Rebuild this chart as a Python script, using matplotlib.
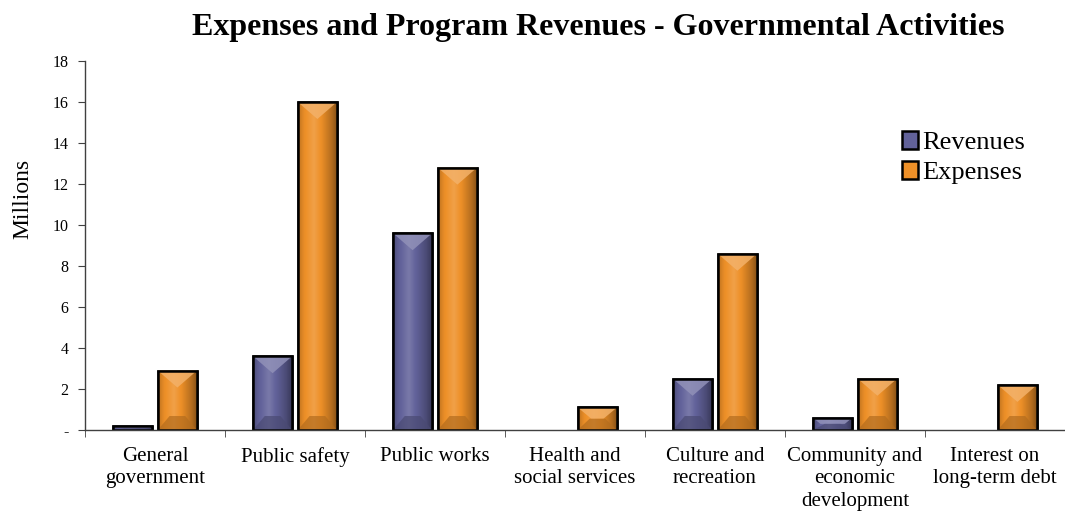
import numpy as np
import matplotlib
matplotlib.use("Agg")
import matplotlib.pyplot as plt
from matplotlib.patches import Polygon, Rectangle
from matplotlib.colors import to_rgb

categories = ["General\ngovernment", "Public safety", "Public works",
              "Health and\nsocial services", "Culture and\nrecreation",
              "Community and\neconomic\ndevelopment", "Interest on\nlong-term debt"]
revenues = [0.2, 3.6, 9.6, 0.0, 2.5, 0.6, 0.0]
expenses = [2.9, 16.0, 12.8, 1.1, 8.6, 2.5, 2.2]
yticks = [0, 2, 4, 6, 8, 10, 12, 14, 16, 18]
ytick_labels = ["-", "2", "4", "6", "8", "10", "12", "14", "16", "18"]
series_names = ["Revenues", "Expenses"]
series_colors = ["#62629a", "#ee9028"]

plt.rcParams['font.family'] = ['Liberation Serif', 'DejaVu Serif']

fig = plt.figure(figsize=(10.65, 5.16), dpi=100)
ax = fig.add_axes([85/1065, 1-430/516, 980/1065, 369/516])
ax.set_xlim(-0.5, len(categories)-0.5)
ax.set_ylim(0, 18)

x = np.arange(len(categories))
w = 0.28
off = 0.16


def lighten(c, f):
    r = np.array(to_rgb(c))
    return tuple(r + (1-r)*f)


def darken(c, f):
    r = np.array(to_rgb(c))
    return tuple(r*(1-f))


fig.canvas.draw()
p0 = ax.transData.transform((0, 0))
p1 = ax.transData.transform((1, 1))
px_x = p1[0]-p0[0]
px_y = p1[1]-p0[1]

# multiplier profile across bar width (left -> right)
prof_t = [0.0, 0.15, 0.4, 0.6, 0.85, 1.0]
prof_v = [0.80, 0.98, 1.10, 0.98, 0.75, 0.55]


def bevel_bar(xc, h, color, label=None):
    bars = ax.bar(xc, h, width=w, color=color, edgecolor="black", linewidth=1.8, zorder=2, label=label)
    for b in bars:
        x0, y0 = b.get_x(), b.get_y()
        bw, bh = b.get_width(), b.get_height()
        if bh <= 0:
            b.set_visible(False)
            continue
        x1, y1 = x0+bw, y0+bh
        n = 64
        t = np.linspace(0, 1, n)
        prof = np.interp(t, prof_t, prof_v)
        base = np.array(to_rgb(color))
        rows = []
        for v in prof:
            if v >= 1:
                rows.append(base + (1-base)*(v-1)*1.5)
            else:
                rows.append(base*v)
        img = np.clip(np.array(rows), 0, 1)[None, :, :]
        im = ax.imshow(img, extent=[x0, x1, y0, y1], aspect="auto", zorder=2.1,
                       interpolation="bilinear")
        clip = Rectangle((x0, y0), bw, bh, transform=ax.transData)
        im.set_clip_path(clip)
        dx = bw/2
        dy = min(17/px_y, bh/2)
        dxx = min(dx, dy*px_y/px_x*1.2) if bh/2 < 17/px_y else dx
        top = Polygon([(x0, y1), (x1, y1), (x1-dxx, y1-dy), (x0+dxx, y1-dy)],
                      closed=True, facecolor=lighten(color, 0.3), edgecolor="none", alpha=0.85, zorder=2.2)
        dyb = min(14/px_y, bh/2)
        bot = Polygon([(x0, y0), (x1, y0), (x1-dx*0.6, y0+dyb), (x0+dx*0.6, y0+dyb)],
                      closed=True, facecolor=darken(color, 0.25), edgecolor="none", alpha=0.7, zorder=2.2)
        ax.add_patch(top)
        ax.add_patch(bot)
        ax.add_patch(Rectangle((x0, y0), bw, bh, facecolor="none", edgecolor="black",
                               linewidth=1.8, zorder=2.4))


bevel_bar(x-off, revenues, series_colors[0], series_names[0])
bevel_bar(x+off, expenses, series_colors[1], series_names[1])

ax.spines['top'].set_visible(False)
ax.spines['right'].set_visible(False)
for s in ['left', 'bottom']:
    ax.spines[s].set_color("#404040")
    ax.spines[s].set_linewidth(1.0)

ax.set_yticks(yticks)
ax.set_yticklabels(ytick_labels, fontsize=11.5)
ax.tick_params(axis='y', direction='out', length=5, color="#404040", pad=7)

ax.set_xticks(x)
ax.set_xticklabels(categories, fontsize=15, linespacing=1.25, va="top")
ax.tick_params(axis='x', which='major', length=0, pad=12)
ax.set_xticks(np.arange(-0.5, len(categories)), minor=True)
ax.tick_params(axis='x', which='minor', direction='out', length=5, color="#404040")

ax.set_ylabel("Millions", fontsize=17, labelpad=12)
ax.yaxis.set_label_coords(-0.053, 0.625)

fig.text(0.5615, 0.947, "Expenses and Program Revenues - Governmental Activities",
         ha="center", va="center", fontsize=23, fontweight="bold")

leg = ax.legend(loc="upper left", bbox_to_anchor=(0.823, 0.84), frameon=False,
                fontsize=19, handlelength=0.6, handleheight=0.7, handletextpad=0.15,
                labelspacing=0.25, borderaxespad=0)

fig.savefig("out.png", dpi=100)
